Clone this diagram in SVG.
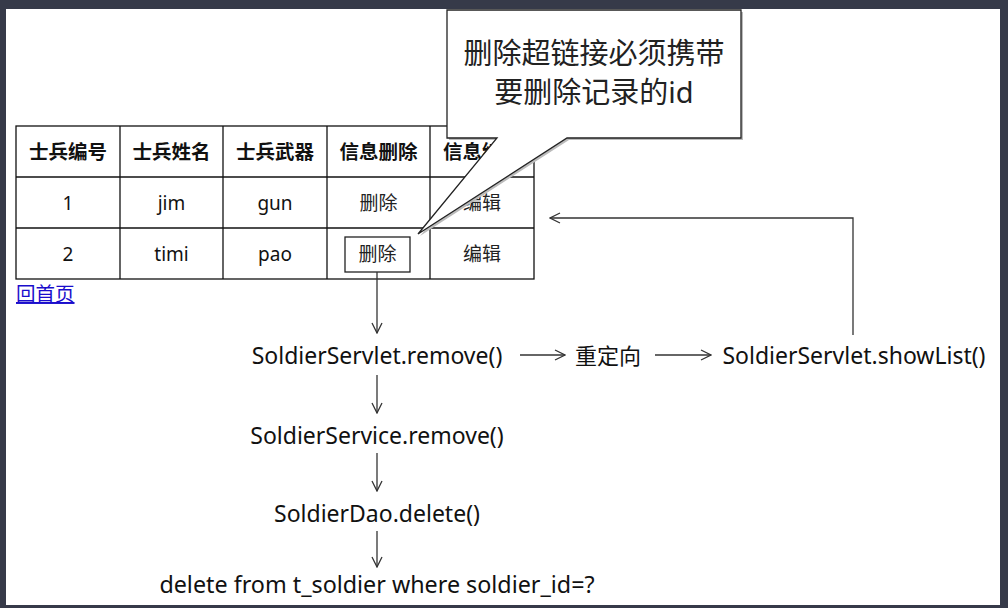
<svg xmlns="http://www.w3.org/2000/svg" width="1008" height="608" viewBox="0 0 1008 608">
<defs>
<style>
.t{font-family:"Noto Sans","Noto Sans CJK SC",sans-serif;fill:#111;}
.cell{font-size:19px;text-anchor:middle;}
.hd{font-size:19.5px;font-weight:bold;text-anchor:middle;}
.flow{font-size:23px;text-anchor:middle;}
.grid{stroke:#111;stroke-width:1.3;fill:none;}
.conn{stroke:#333;stroke-width:1.3;fill:none;}
</style>
<marker id="ah" viewBox="0 0 12 12" refX="11" refY="6" markerWidth="12" markerHeight="12" markerUnits="userSpaceOnUse" orient="auto">
<path d="M1,1 L11,6 L1,11" fill="none" stroke="#333" stroke-width="1.3"/>
</marker>
</defs>
<rect x="0" y="0" width="1008" height="608" fill="#363a49"/>
<rect x="6" y="9" width="994" height="596" fill="#ffffff"/>

<g id="table">
<rect class="grid" x="16" y="126" width="518" height="153"/>
<line class="grid" x1="16" y1="177" x2="534" y2="177"/>
<line class="grid" x1="16" y1="228" x2="534" y2="228"/>
<line class="grid" x1="120" y1="126" x2="120" y2="279"/>
<line class="grid" x1="223" y1="126" x2="223" y2="279"/>
<line class="grid" x1="327" y1="126" x2="327" y2="279"/>
<line class="grid" x1="430" y1="126" x2="430" y2="279"/>
<text class="t hd" x="68" y="159">士兵编号</text>
<text class="t hd" x="171.5" y="159">士兵姓名</text>
<text class="t hd" x="275" y="159">士兵武器</text>
<text class="t hd" x="378.5" y="159">信息删除</text>
<text class="t hd" x="482" y="159">信息编辑</text>
<text class="t cell" x="68" y="210">1</text>
<text class="t cell" x="171.5" y="210">jim</text>
<text class="t cell" x="275" y="210">gun</text>
<text class="t cell" x="378.5" y="210" style="fill:#222">删除</text>
<text class="t cell" x="482" y="210" style="fill:#222">编辑</text>
<text class="t cell" x="68" y="261">2</text>
<text class="t cell" x="171.5" y="261">timi</text>
<text class="t cell" x="275" y="261">pao</text>
<text class="t cell" x="482" y="261" style="fill:#222">编辑</text>
</g>

<g id="delete-button">
<rect x="345" y="237" width="65" height="35" fill="none" stroke="#222" stroke-width="1.3"/>
<text class="t cell" x="377.5" y="261" style="fill:#222">删除</text>
</g>

<g id="home-link">
<text class="t" x="16" y="301" style="font-size:19.5px;fill:#1a0dcc;text-decoration:underline">回首页</text>
</g>

<g id="callout">
<path d="M449,12 L743,12 L743,140 L569,140 L420,236 L499,140 L449,140 Z" fill="#bbb" stroke="none"/>
<path d="M447,10 L741,10 L741,138 L567,138 L418,234 L497,138 L447,138 Z" fill="#fff" stroke="#222" stroke-width="1.3"/>
<text class="t" x="594" y="64" style="font-size:29px;text-anchor:middle;fill:#222">删除超链接必须携带</text>
<text class="t" x="594" y="103" style="font-size:29px;text-anchor:middle;fill:#222">要删除记录的id</text>
</g>

<g id="servlet-remove"><text class="t flow" x="377" y="364">SoldierServlet.remove()</text></g>
<g id="redirect"><text class="t flow" x="608" y="364" style="font-size:22px">重定向</text></g>
<g id="servlet-showlist"><text class="t flow" x="854" y="364">SoldierServlet.showList()</text></g>
<g id="service-remove"><text class="t flow" x="377" y="444">SoldierService.remove()</text></g>
<g id="dao-delete"><text class="t flow" x="377" y="522">SoldierDao.delete()</text></g>
<g id="sql"><text class="t flow" x="377" y="593" style="font-size:23.3px">delete from t_soldier where soldier_id=?</text></g>

<g id="connectors">
<line class="conn" x1="377" y1="272" x2="377" y2="333" marker-end="url(#ah)"/>
<line class="conn" x1="377" y1="375" x2="377" y2="413" marker-end="url(#ah)"/>
<line class="conn" x1="377" y1="453" x2="377" y2="491" marker-end="url(#ah)"/>
<line class="conn" x1="377" y1="531" x2="377" y2="567" marker-end="url(#ah)"/>
<line class="conn" x1="520" y1="355" x2="565" y2="355" marker-end="url(#ah)"/>
<line class="conn" x1="655" y1="355" x2="711" y2="355" marker-end="url(#ah)"/>
<polyline class="conn" points="853,335 853,218 550,218" marker-end="url(#ah)"/>
</g>
</svg>
